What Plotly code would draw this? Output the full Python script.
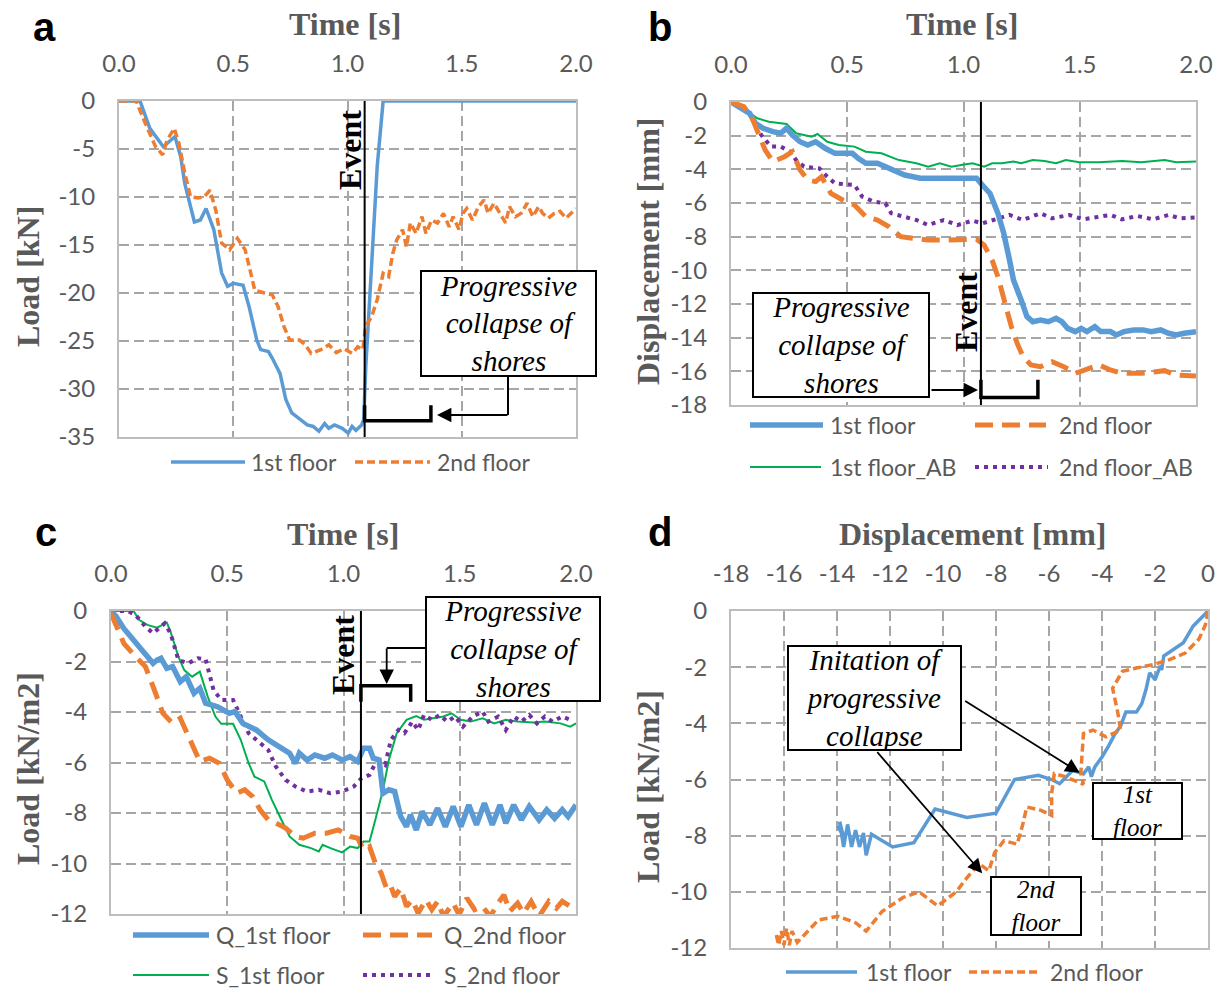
import plotly.graph_objects as go

W, H = 1223, 990

# ---------------- Panel a: Load [kN] vs Time [s] ----------------
a_t1 = [0, 0.092, 0.135, 0.16, 0.194, 0.245, 0.27, 0.288, 0.313, 0.33, 0.356, 0.381, 0.415, 0.424,
        0.449, 0.475, 0.5, 0.543, 0.569, 0.603, 0.62, 0.654, 0.671, 0.705, 0.73, 0.756, 0.79, 0.824,
        0.85, 0.875, 0.9, 0.918, 0.943, 0.977, 1.003, 1.02, 1.037, 1.062, 1.071, 1.08, 1.105, 1.13,
        1.156, 1.5, 2.0]
a_y1 = [0, 0, -2.85, -3.7, -4.76, -3.7, -5.8, -8.6, -11.0, -12.6, -12.4, -11.2, -13.4, -14.5,
        -17.9, -19.3, -19.0, -19.2, -21.4, -24.9, -25.9, -26.1, -26.8, -28.4, -31.1, -32.5, -33.1, -33.75,
        -33.9, -34.4, -33.6, -34.1, -33.75, -34.1, -34.6, -33.9, -34.3, -33.75, -33.2, -27.7, -17.3, -6.8,
        0, 0, 0]
a_t2 = [0, 0.075, 0.109, 0.135, 0.16, 0.191, 0.211, 0.242, 0.262, 0.288, 0.313, 0.347, 0.373, 0.398,
        0.424, 0.449, 0.484, 0.518, 0.552, 0.577, 0.594, 0.637, 0.671, 0.696, 0.722, 0.747, 0.79, 0.815,
        0.841, 0.884, 0.918, 0.951, 0.986, 1.02, 1.045, 1.067, 1.079, 1.105, 1.13, 1.156, 1.18, 1.198,
        1.215, 1.241, 1.258, 1.275, 1.3, 1.326, 1.343, 1.368, 1.394, 1.42, 1.445, 1.462, 1.488, 1.505,
        1.522, 1.547, 1.573, 1.598, 1.615, 1.641, 1.667, 1.692, 1.709, 1.735, 1.76, 1.786, 1.811, 1.837,
        1.854, 1.879, 1.905, 1.93, 1.956, 1.98, 2.0]
a_y2 = [0, 0, -1.98, -3.37, -4.76, -5.6, -4.06, -2.85, -4.4, -7.5, -9.97, -10.1, -9.97, -9.3,
        -11.4, -14.8, -15.5, -14.3, -15.5, -17.95, -19.7, -20.0, -20.2, -21.4, -23.5, -24.9, -24.9, -25.4,
        -26.3, -25.9, -25.4, -26.2, -25.8, -26.3, -25.6, -25.9, -23.5, -22.5, -20.7, -17.95, -18.3, -15.9,
        -14.5, -13.4, -15.2, -12.7, -13.8, -12.05, -13.8, -12.4, -12.7, -11.7, -13.1, -12.05, -13.4, -11.7,
        -11.2, -12.4, -11.0, -10.3, -11.7, -10.65, -11.7, -12.7, -11.0, -12.05, -11.7, -10.65, -12.05, -11.0,
        -11.7, -12.2, -11.7, -11.5, -12.2, -11.7, -11.2]

# ---------------- Panel b: Displacement [mm] vs Time [s] ----------------
b_t1 = [0, 0.047, 0.08, 0.105, 0.138, 0.18, 0.214, 0.239, 0.264, 0.297, 0.33, 0.364, 0.405, 0.447,
        0.48, 0.522, 0.547, 0.58, 0.63, 0.68, 0.747, 0.814, 0.898, 0.98, 1.056, 1.081, 1.114, 1.148,
        1.173, 1.198, 1.215, 1.248, 1.273, 1.298, 1.331, 1.365, 1.398, 1.423, 1.448, 1.481, 1.506, 1.531,
        1.565, 1.59, 1.632, 1.657, 1.69, 1.732, 1.773, 1.807, 1.848, 1.882, 1.915, 1.949, 2.0]
b_y1 = [0, -0.38, -0.67, -1.27, -1.56, -1.76, -1.86, -1.56, -1.96, -2.36, -2.55, -2.36, -2.75, -3.05,
        -3.05, -3.05, -3.35, -3.64, -3.64, -3.94, -4.34, -4.53, -4.53, -4.53, -4.53, -4.93, -5.43, -6.61,
        -7.8, -9.39, -10.57, -11.76, -12.75, -13.05, -12.95, -13.05, -12.85, -13.05, -13.45, -13.64, -13.45, -13.64,
        -13.35, -13.64, -13.64, -13.84, -13.64, -13.54, -13.54, -13.64, -13.54, -13.74, -13.84, -13.74, -13.64]
b_t2 = [0, 0.055, 0.088, 0.113, 0.147, 0.18, 0.23, 0.264, 0.297, 0.33, 0.364, 0.389, 0.43, 0.48,
        0.531, 0.58, 0.63, 0.68, 0.73, 0.781, 0.848, 0.931, 1.056, 1.089, 1.123, 1.148, 1.173, 1.206,
        1.231, 1.256, 1.29, 1.331, 1.381, 1.431, 1.481, 1.523, 1.582, 1.632, 1.682, 1.765, 1.815, 1.865,
        1.915, 2.0]
b_y2 = [0, -0.28, -0.87, -1.66, -2.85, -3.54, -3.25, -2.95, -4.04, -4.63, -4.73, -4.44, -5.43, -5.82,
        -6.12, -6.81, -7.01, -7.41, -8.0, -8.1, -8.2, -8.2, -8.16, -8.5, -9.39, -10.38, -11.76, -13.35,
        -14.34, -15.13, -15.62, -15.72, -15.43, -15.72, -16.12, -15.92, -15.62, -15.92, -16.12, -16.12, -16.02, -15.96,
        -16.22, -16.28]
b_t3 = [0, 0.063, 0.113, 0.163, 0.239, 0.28, 0.347, 0.372, 0.414, 0.464, 0.531, 0.58, 0.647, 0.722,
        0.797, 0.848, 0.898, 0.948, 0.99, 1.039, 1.089, 1.123, 1.165, 1.215, 1.248, 1.298, 1.348, 1.398,
        1.44, 1.498, 1.582, 1.682, 1.765, 1.865, 1.915, 2.0]
b_y3 = [0, -0.48, -0.97, -1.17, -1.31, -1.86, -2.06, -1.9, -2.36, -2.55, -2.65, -2.95, -3.05, -3.45,
        -3.64, -3.84, -3.64, -3.84, -3.74, -3.64, -3.84, -3.64, -3.64, -3.54, -3.64, -3.45, -3.5, -3.64,
        -3.45, -3.58, -3.58, -3.5, -3.58, -3.45, -3.58, -3.54]
b_t4 = [0, 0.038, 0.08, 0.105, 0.13, 0.172, 0.214, 0.255, 0.28, 0.314, 0.38, 0.414, 0.447, 0.531,
        0.564, 0.614, 0.664, 0.689, 0.747, 0.797, 0.848, 0.915, 0.973, 1.039, 1.081, 1.131, 1.198, 1.256,
        1.331, 1.381, 1.456, 1.515, 1.582, 1.632, 1.682, 1.748, 1.815, 1.882, 1.932, 2.0]
b_y4 = [0, -0.18, -0.67, -1.27, -1.96, -2.65, -2.65, -2.95, -3.45, -3.84, -3.94, -4.44, -4.83, -4.93,
        -5.62, -5.92, -6.02, -6.61, -6.81, -7.01, -7.31, -7.01, -7.31, -7.05, -7.21, -7.01, -6.71, -7.01,
        -6.61, -6.91, -6.71, -6.97, -6.81, -6.71, -6.97, -6.77, -6.97, -6.71, -6.91, -6.85]

# ---------------- Panel c: Load [kN/m2] vs Time [s] ----------------
c_t1 = [0, 0.022, 0.055, 0.097, 0.139, 0.181, 0.198, 0.215, 0.24, 0.265, 0.298, 0.324, 0.357, 0.382,
        0.407, 0.458, 0.508, 0.533, 0.567, 0.625, 0.676, 0.726, 0.768, 0.793, 0.81, 0.843, 0.877, 0.919,
        0.952, 0.994, 1.028, 1.061, 1.086, 1.112, 1.128, 1.153, 1.17, 1.195, 1.22, 1.246, 1.271, 1.288,
        1.313, 1.338, 1.371, 1.405, 1.438, 1.472, 1.505, 1.539, 1.572, 1.606, 1.64, 1.673, 1.698, 1.732,
        1.765, 1.799, 1.841, 1.874, 1.908, 1.941, 1.966, 2.0]
c_y1 = [0, -0.22, -0.69, -1.15, -1.61, -2.07, -1.94, -1.87, -2.27, -2.2, -2.8, -2.6, -3.26, -3.06,
        -3.65, -3.79, -4.05, -3.98, -4.45, -4.71, -5.1, -5.37, -5.63, -6.03, -5.63, -5.9, -5.7, -5.83,
        -5.7, -5.9, -5.77, -5.96, -5.44, -5.44, -5.83, -5.9, -7.22, -7.08, -7.15, -8.14, -8.54, -8.07,
        -8.67, -7.94, -8.47, -7.81, -8.54, -7.74, -8.54, -7.68, -8.47, -7.61, -8.47, -7.68, -8.4, -7.68,
        -8.27, -7.74, -8.27, -7.87, -8.21, -7.87, -8.14, -7.68]
c_t2 = [0, 0.022, 0.055, 0.106, 0.148, 0.181, 0.223, 0.265, 0.298, 0.34, 0.382, 0.424, 0.466, 0.5,
        0.541, 0.575, 0.609, 0.642, 0.676, 0.709, 0.751, 0.793, 0.826, 0.877, 0.927, 0.977, 1.028, 1.061,
        1.086, 1.112, 1.137, 1.162, 1.187, 1.204, 1.22, 1.246, 1.271, 1.296, 1.321, 1.355, 1.38, 1.405,
        1.43, 1.472, 1.497, 1.531, 1.564, 1.598, 1.631, 1.665, 1.69, 1.715, 1.749, 1.774, 1.807, 1.841,
        1.883, 1.916, 1.941, 1.975]
c_y2 = [-0.09, -0.62, -1.28, -1.81, -2.2, -2.99, -4.05, -4.45, -4.25, -5.1, -5.96, -5.83, -6.03, -6.69,
        -7.22, -7.08, -7.35, -7.88, -8.27, -8.4, -8.6, -8.93, -9.0, -8.8, -8.8, -8.67, -8.93, -9.0,
        -9.46, -9.33, -9.99, -10.38, -11.04, -10.91, -11.31, -10.98, -11.7, -11.44, -11.97, -11.44, -11.83, -11.5,
        -12.1, -11.57, -12.03, -11.37, -11.83, -11.7, -12.1, -11.57, -11.24, -11.9, -11.57, -11.97, -11.5, -12.1,
        -11.5, -11.77, -11.5, -11.7]
c_t3 = [0, 0.097, 0.122, 0.156, 0.198, 0.24, 0.256, 0.29, 0.315, 0.349, 0.382, 0.416, 0.449, 0.474,
        0.525, 0.558, 0.592, 0.617, 0.659, 0.692, 0.726, 0.768, 0.81, 0.86, 0.894, 0.91, 0.944, 0.994,
        1.028, 1.061, 1.086, 1.112, 1.137, 1.17, 1.195, 1.229, 1.271, 1.313, 1.346, 1.388, 1.43, 1.464,
        1.505, 1.547, 1.598, 1.648, 1.698, 1.749, 1.816, 1.866, 1.933, 1.975, 2.0]
c_y3 = [0, 0, -0.36, -0.55, -0.66, -0.46, -0.82, -1.81, -2.34, -2.6, -2.4, -3.39, -4.18, -4.47,
        -4.47, -5.1, -6.03, -6.56, -6.75, -7.48, -8.14, -8.93, -9.26, -9.39, -9.52, -9.26, -9.39, -9.56,
        -9.33, -9.39, -9.13, -9.13, -8.27, -7.08, -5.9, -4.84, -4.31, -4.16, -4.31, -4.25, -4.18, -4.05,
        -4.31, -4.38, -4.25, -4.45, -4.31, -4.38, -4.42, -4.38, -4.45, -4.58, -4.45]
c_t4 = [0, 0.072, 0.106, 0.148, 0.181, 0.231, 0.256, 0.29, 0.332, 0.374, 0.407, 0.441, 0.474, 0.525,
        0.558, 0.592, 0.625, 0.676, 0.709, 0.751, 0.793, 0.843, 0.894, 0.944, 0.994, 1.044, 1.078, 1.112,
        1.137, 1.162, 1.179, 1.204, 1.237, 1.262, 1.296, 1.321, 1.346, 1.38, 1.413, 1.447, 1.48, 1.514,
        1.556, 1.598, 1.623, 1.665, 1.698, 1.732, 1.765, 1.799, 1.832, 1.866, 1.899, 1.941, 1.975]
c_y4 = [0, 0, -0.16, -0.62, -0.88, -0.49, -0.88, -1.94, -2.07, -1.87, -1.91, -3.13, -3.52, -3.52,
        -4.18, -4.84, -5.1, -5.5, -6.16, -6.69, -6.95, -7.15, -7.08, -7.22, -7.15, -6.95, -6.62, -6.49,
        -6.03, -5.96, -6.09, -5.1, -4.71, -4.84, -4.38, -4.71, -4.12, -4.31, -4.12, -4.38, -4.18, -4.58,
        -4.18, -3.98, -4.38, -4.18, -4.71, -4.18, -4.38, -4.12, -4.45, -4.18, -4.38, -4.18, -4.31]

# ---------------- Panel d: Load [kN/m2] vs Displacement [mm] ----------------
d_x1 = [0, -0.56, -0.93, -1.3, -1.67, -1.75, -1.8, -2.0, -2.2, -2.34, -2.5, -2.7, -3.1, -3.3, -3.5,
        -3.75, -4.0, -4.27, -4.4, -4.5, -4.7, -5.1, -5.6, -5.9, -6.4, -7.3, -8.0, -9.1, -10.3, -11.1,
        -11.9, -12.7, -12.9, -13.0, -13.15, -13.3, -13.45, -13.6, -13.75, -13.9, -13.75, -13.97, -13.8]
d_y1 = [0, -0.54, -1.13, -1.37, -1.6, -2.1, -1.95, -2.45, -2.2, -2.8, -3.3, -3.6, -3.6, -4.1, -4.36,
        -4.8, -5.2, -5.55, -5.9, -5.55, -5.8, -5.67, -6.15, -6.0, -5.85, -6.0, -7.2, -7.35, -7.05, -8.25,
        -8.4, -7.95, -8.7, -7.9, -8.4, -7.8, -8.4, -7.6, -8.4, -7.5, -8.05, -7.65, -7.85]
d_x2 = [0, -0.1, -0.34, -0.86, -1.45, -2.04, -2.7, -3.23, -3.6, -3.4, -3.3, -3.85, -4.34, -4.7, -4.8,
        -4.7, -5.4, -5.8, -5.9, -5.9, -6.3, -6.84, -7.0, -7.2, -7.7, -8.05, -8.27, -8.64, -9.1, -9.5,
        -10.2, -10.9, -11.5, -12.3, -12.9, -13.3, -13.97, -14.7, -15.2, -15.5, -15.7, -15.8, -15.9, -16.0,
        -16.1, -16.2, -16.3, -16.1]
d_y2 = [0, -0.5, -1.0, -1.5, -1.73, -1.9, -2.03, -2.15, -2.75, -3.64, -4.24, -4.48, -4.24, -4.36, -5.79,
        -6.17, -5.9, -5.79, -6.5, -7.28, -7.1, -6.98, -7.64, -8.3, -8.18, -8.6, -9.25, -9.0, -9.5, -10.0,
        -10.5, -10.0, -10.2, -10.7, -11.4, -11.1, -10.87, -11.0, -11.5, -11.8, -11.4, -11.9, -11.3, -11.9,
        -11.4, -11.9, -11.5, -11.7]

# ---------------- Labels ----------------
t_ticks = [0, 0.5, 1.0, 1.5, 2.0]
t_ticktext = ["0.0", "0.5", "1.0", "1.5", "2.0"]
a_yticks = [0, -5, -10, -15, -20, -25, -30, -35]
b_yticks = [0, -2, -4, -6, -8, -10, -12, -14, -16, -18]
c_yticks = [0, -2, -4, -6, -8, -10, -12]
d_xticks = [-18, -16, -14, -12, -10, -8, -6, -4, -2, 0]
d_yticks = [0, -2, -4, -6, -8, -10, -12]
a_names = ["1st floor", "2nd floor"]
b_names = ["1st floor", "2nd floor", "1st floor_AB", "2nd floor_AB"]
c_names = ["Q_1st floor", "Q_2nd floor", "S_1st floor", "S_2nd floor"]
d_names = ["1st floor", "2nd floor"]
EVENT_T = 1.075


def lab(v):
    return str(v) if v != 0 else "0"


BLUE = "#5B9BD5"
ORANGE = "#ED7D31"
GREEN = "#00B050"
PURPLE = "#7030A0"
GRID = "#A6A6A6"
BORDER = "#BDBDBD"
TXT = "#595959"
SANS = "Lato, 'Open Sans', sans-serif"
SERIF = "'Liberation Serif', 'DejaVu Serif', serif"

TICK_FONT = dict(family=SANS, size=24, color=TXT)

S_A1 = dict(color=BLUE, width=3.5)
S_A2 = dict(color=ORANGE, width=3.5, dash="8px,4px")
S_Q1 = dict(color=BLUE, width=5.5)
S_Q2 = dict(color=ORANGE, width=5, dash="18px,9px")
S_S1 = dict(color=GREEN, width=2)
S_S2 = dict(color=PURPLE, width=4, dash="4px,5px")

fig = go.Figure()


def add(x, y, style, xa, ya):
    fig.add_trace(go.Scatter(x=x, y=y, mode="lines", line=style, xaxis=xa, yaxis=ya,
                             showlegend=False, hoverinfo="skip"))


add(a_t1, a_y1, S_A1, "x", "y")
add(a_t2, a_y2, S_A2, "x", "y")
add(b_t3, b_y3, S_S1, "x2", "y2")
add(b_t4, b_y4, S_S2, "x2", "y2")
add(b_t1, b_y1, S_Q1, "x2", "y2")
add(b_t2, b_y2, S_Q2, "x2", "y2")
add(c_t3, c_y3, S_S1, "x3", "y3")
add(c_t4, c_y4, S_S2, "x3", "y3")
add(c_t1, c_y1, S_Q1, "x3", "y3")
add(c_t2, c_y2, S_Q2, "x3", "y3")
add(d_x1, d_y1, S_A1, "x4", "y4")
add(d_x2, d_y2, S_A2, "x4", "y4")


def dom_x(x0, x1):
    return [x0 / W, x1 / W]


def dom_y(y0, y1):
    return [1 - y1 / H, 1 - y0 / H]


def axis(domain, anchor, rng, tickvals, ticktext, side):
    return dict(domain=domain, anchor=anchor, range=rng, side=side,
                tickmode="array", tickvals=tickvals, ticktext=ticktext,
                showgrid=True, gridcolor=GRID, gridwidth=1.5, griddash="10px,5px",
                showline=True, linecolor=BORDER, linewidth=2, mirror=True,
                zeroline=False, ticks="", tickfont=TICK_FONT, ticklabelstandoff=17,
                automargin=False, fixedrange=True)


fig.update_layout(
    xaxis=axis(dom_x(119, 576), "y", [0, 2], t_ticks, t_ticktext, "top"),
    yaxis=axis(dom_y(101, 437), "x", [-35, 0], a_yticks, [lab(v) for v in a_yticks], "left"),
    xaxis2=axis(dom_x(731, 1196), "y2", [0, 2], t_ticks, t_ticktext, "top"),
    yaxis2=axis(dom_y(102, 405), "x2", [-18, 0], b_yticks, [lab(v) for v in b_yticks], "left"),
    xaxis3=axis(dom_x(111, 576), "y3", [0, 2], t_ticks, t_ticktext, "top"),
    yaxis3=axis(dom_y(611, 914), "x3", [-12, 0], c_yticks, [lab(v) for v in c_yticks], "left"),
    xaxis4=axis(dom_x(731, 1208), "y4", [-18, 0], d_xticks, [lab(v) for v in d_xticks], "top"),
    yaxis4=axis(dom_y(611, 948), "x4", [-12, 0], d_yticks, [lab(v) for v in d_yticks], "left"),
)

ann = []
shapes = []


def P(x, y):
    return x / W, 1 - y / H


def text_px(x, y, text, font, angle=0, xanchor="center"):
    px_, py_ = P(x, y)
    ann.append(dict(x=px_, y=py_, xref="paper", yref="paper", text=text, showarrow=False,
                    font=font, textangle=angle, xanchor=xanchor, yanchor="middle"))


# Panel letters
LET = dict(family="'Liberation Sans', Arial, sans-serif", size=40, color="black")
text_px(44, 27, "<b>a</b>", LET)
text_px(660, 27, "<b>b</b>", LET)
text_px(46, 532, "<b>c</b>", LET)
text_px(660, 532, "<b>d</b>", LET)

# Axis titles
TF = dict(family=SERIF, size=32, color=TXT)
text_px(345, 24, "<b>Time [s]</b>", TF)
text_px(962, 24, "<b>Time [s]</b>", TF)
text_px(343, 534, "<b>Time [s]</b>", TF)
text_px(972, 534, "<b>Displacement [mm]</b>", TF)
text_px(28, 277, "<b>Load [kN]</b>", TF, angle=-90)
text_px(648, 252, "<b>Displacement [mm]</b>", TF, angle=-90)
text_px(28, 769, "<b>Load [kN/m2]</b>", TF, angle=-90)
text_px(648, 787, "<b>Load [kN/m2]</b>", TF, angle=-90)

# Event labels
EF = dict(family=SERIF, size=32, color="black")
text_px(350, 150, "<b>Event</b>", EF, angle=-90)
text_px(966, 312, "<b>Event</b>", EF, angle=-90)
text_px(343, 655, "<b>Event</b>", EF, angle=-90)

# Boxes
BF = dict(family=SERIF, size=29, color="black")


def box(cx, cy, w, h, text, size=29):
    px_, py_ = P(cx, cy)
    ann.append(dict(x=px_, y=py_, xref="paper", yref="paper", text="<i>" + text + "</i>",
                    showarrow=False, font=dict(BF, size=size), bgcolor="white", bordercolor="black",
                    borderwidth=2, borderpad=0, width=w - 4, height=h - 4, align="center",
                    valign="middle", xanchor="center", yanchor="middle"))


PC = "Progressive<br>collapse of<br>shores"
box(508.5, 323.5, 177, 107, PC)
box(841, 344.5, 178, 106, PC)
box(513, 648.7, 176, 106, PC)
box(874.5, 698, 175, 106, "Initation of<br>progressive<br>collapse")
box(1137.5, 811, 91, 58, "1st<br>floor", 25)
box(1036, 906, 92, 60, "2nd<br>floor", 25)


def arrow(tx, ty, hx, hy):
    px_, py_ = P(hx, hy)
    ann.append(dict(x=px_, y=py_, xref="paper", yref="paper", text="", showarrow=True,
                    ax=tx - hx, ay=ty - hy, arrowhead=2, arrowsize=1.6, arrowwidth=1.8,
                    arrowcolor="black", standoff=0))


def seg_px(x0, y0, x1, y1, w=2):
    a0, b0 = P(x0, y0)
    a1, b1 = P(x1, y1)
    shapes.append(dict(type="line", xref="paper", yref="paper", x0=a0, y0=b0, x1=a1, y1=b1,
                       line=dict(color="black", width=w)))


# panel a arrow
seg_px(508, 377, 508, 415)
arrow(509, 415, 437, 415)
# panel b arrow
arrow(930, 390, 978, 390)
# panel c arrow
seg_px(425, 648, 386.7, 648)
arrow(386.7, 647, 386.7, 684)
# panel d arrows
arrow(963.7, 700, 1079.7, 772.7)
arrow(876, 750.7, 982.2, 873.3)

# Event lines (data coordinates)
for xr in ["x", "x2", "x3"]:
    shapes.append(dict(type="line", xref=xr, yref=("y" + xr[1:]) + " domain", x0=EVENT_T, x1=EVENT_T,
                       y0=0, y1=1, line=dict(color="black", width=2)))


def bracket(xr, yr, x0, x1, ytip, ybase):
    path = f"M {x0},{ytip} L {x0},{ybase} L {x1},{ybase} L {x1},{ytip}"
    shapes.append(dict(type="path", xref=xr, yref=yr, path=path, line=dict(color="black", width=3.5)))


bracket("x", "y", EVENT_T, 1.365, -31.7, -33.3)
bracket("x2", "y2", EVENT_T, 1.32, -16.5, -17.55)
bracket("x3", "y3", EVENT_T, 1.289, -3.59, -2.96)

# Custom legends
LF = dict(family=SANS, size=23, color=TXT)


def leg(x0, x1, y, style, xt, name):
    a0, b0 = P(x0, y)
    a1, _ = P(x1, y)
    ln = dict(color=style["color"], width=style["width"])
    if "dash" in style:
        ln["dash"] = style["dash"]
    shapes.append(dict(type="line", xref="paper", yref="paper", x0=a0, x1=a1, y0=b0, y1=b0, line=ln))
    text_px(xt, y, name, LF, xanchor="left")


leg(171, 245, 462, S_A1, 249, a_names[0])
leg(355, 430, 462, S_A2, 435, a_names[1])

leg(750, 823, 425, S_Q1, 828, b_names[0])
leg(975, 1046, 425, S_Q2, 1057, b_names[1])
leg(750, 821, 467, S_S1, 828, b_names[2])
leg(975, 1048, 467, S_S2, 1057, b_names[3])

leg(133, 209, 935, S_Q1, 214, c_names[0])
leg(363, 432, 935, S_Q2, 442, c_names[1])
leg(133, 209, 975, S_S1, 214, c_names[2])
leg(363, 435, 975, S_S2, 442, c_names[3])

leg(786, 857, 972, S_A1, 864, d_names[0])
leg(969, 1041, 972, S_A2, 1048, d_names[1])

fig.update_layout(width=W, height=H, margin=dict(l=0, r=0, t=0, b=0, pad=0, autoexpand=False),
                  autosize=False, paper_bgcolor="white", plot_bgcolor="white", showlegend=False,
                  annotations=ann, shapes=shapes)

fig.write_html("out.html", config={"displayModeBar": False})
